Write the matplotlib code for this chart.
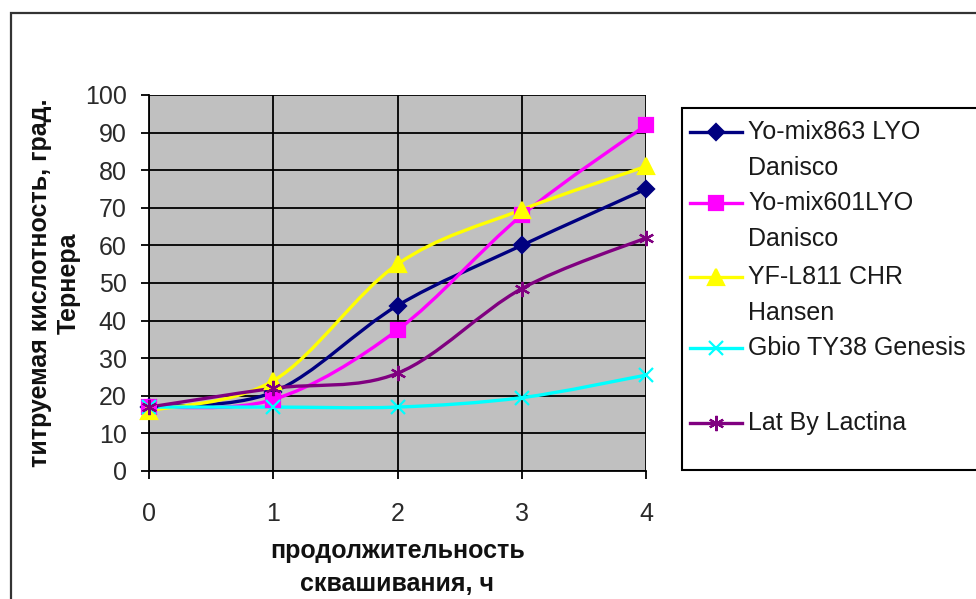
import matplotlib
matplotlib.use('Agg')
import matplotlib.pyplot as plt
from matplotlib.path import Path
from matplotlib.patches import PathPatch, Rectangle
from matplotlib.lines import Line2D

plt.rcParams['font.family'] = ['Liberation Sans', 'DejaVu Sans']

# данные (часы сквашивания и титруемая кислотность)
chasy = [0, 1, 2, 3, 4]
yomix863 = [17, 21, 44, 60, 75]
yomix601 = [17, 19, 37.5, 68, 92]
yfl811 = [16, 24, 55, 69.5, 81]
gbio = [17, 17, 17, 19.5, 25.5]
latby = [17, 22, 26, 48.5, 62]

nazvaniya = ['Yo-mix863 LYO\nDanisco', 'Yo-mix601LYO\nDanisco', 'YF-L811 CHR\nHansen',
             'Gbio TY38 Genesis', 'Lat By Lactina']
y_ticks = list(range(0, 101, 10))

serii = [yomix863, yomix601, yfl811, gbio, latby]
farby = ['#000080', '#FF00FF', '#FFFF00', '#00FFFF', '#800080']
markery = ['D', 's', '^', 'x', (6, 2, 0)]
razmery = [8, 10, 11, 10, 11]


def gladkaya_liniya(ax, x, y, farba, lw):
    # сглаживание как в Excel: кривые Безье через точки
    verts = [(x[0], y[0])]
    codes = [Path.MOVETO]
    n = len(x)
    for i in range(n - 1):
        x0, y0 = x[max(i - 1, 0)], y[max(i - 1, 0)]
        x3, y3 = x[min(i + 2, n - 1)], y[min(i + 2, n - 1)]
        c1 = (x[i] + (x[i + 1] - x0) / 6, y[i] + (y[i + 1] - y0) / 6)
        c2 = (x[i + 1] - (x3 - x[i]) / 6, y[i + 1] - (y3 - y[i]) / 6)
        verts += [c1, c2, (x[i + 1], y[i + 1])]
        codes += [Path.CURVE4] * 3
    ax.add_patch(PathPatch(Path(verts, codes), facecolor='none', edgecolor=farba, lw=lw, zorder=3))


fig = plt.figure(figsize=(9.76, 5.99), dpi=100)
ax = fig.add_axes([149 / 976, 1 - 471 / 599, 497 / 976, 376 / 599])
ax.set_facecolor('#C0C0C0')

for y, farba, m, s in zip(serii, farby, markery, razmery):
    gladkaya_liniya(ax, chasy, y, farba, 2.4)
    ax.plot(chasy, y, linestyle='none', marker=m, markersize=s, color=farba,
            markeredgewidth=1.6, clip_on=False, zorder=4)

ax.set_xlim(0, 4)
ax.set_ylim(0, 100)
ax.set_yticks(y_ticks)
ax.set_xticks(chasy)
ax.grid(True, color='black', lw=1.3)
ax.set_axisbelow(True)
for s in ['top', 'right']:
    ax.spines[s].set_visible(False)
for s in ['left', 'bottom']:
    ax.spines[s].set_linewidth(1.3)
ax.tick_params(direction='out', length=6, width=1.3, labelsize=18, colors='black',
               labelcolor='#2a2a2a')
ax.tick_params(axis='y', pad=10)
ax.tick_params(axis='x', pad=16)

ax.set_xlabel('продолжительность\nсквашивания, ч', fontsize=18, fontweight='bold',
              linespacing=1.45, labelpad=10, color='#111111')
ax.set_ylabel('титруемая кислотность, град.\nТернера', fontsize=18, fontweight='bold',
              linespacing=1.25, labelpad=3, color='#111111')

# рамка всей диаграммы
fig.add_artist(Rectangle((11 / 976, -0.1), 1.2, 1 - 13 / 599 + 0.1, transform=fig.transFigure,
                         fill=False, edgecolor='#333333', lw=1.6))

# легенда вручную
fig.add_artist(Rectangle((682 / 976, 1 - 470 / 599), 0.5, (470 - 108) / 599, transform=fig.transFigure,
                         facecolor='white', edgecolor='black', lw=1.5))
stroki = [132, 203, 277, 348, 423]
for yy, nazv, farba, m, s in zip(stroki, nazvaniya, farby, markery, razmery):
    fy = 1 - yy / 599
    fig.add_artist(Line2D([690 / 976, 742 / 976], [fy, fy], transform=fig.transFigure,
                          color=farba, lw=2.4))
    fig.add_artist(Line2D([716 / 976], [fy], transform=fig.transFigure, linestyle='none',
                          marker=m, markersize=s, color=farba, markeredgewidth=1.6))
    fig.text(748 / 976, fy + 12 / 599, nazv, fontsize=18, va='top', ha='left',
             linespacing=1.65, color='#1a1a1a')

plt.savefig('out.png', dpi=100)
